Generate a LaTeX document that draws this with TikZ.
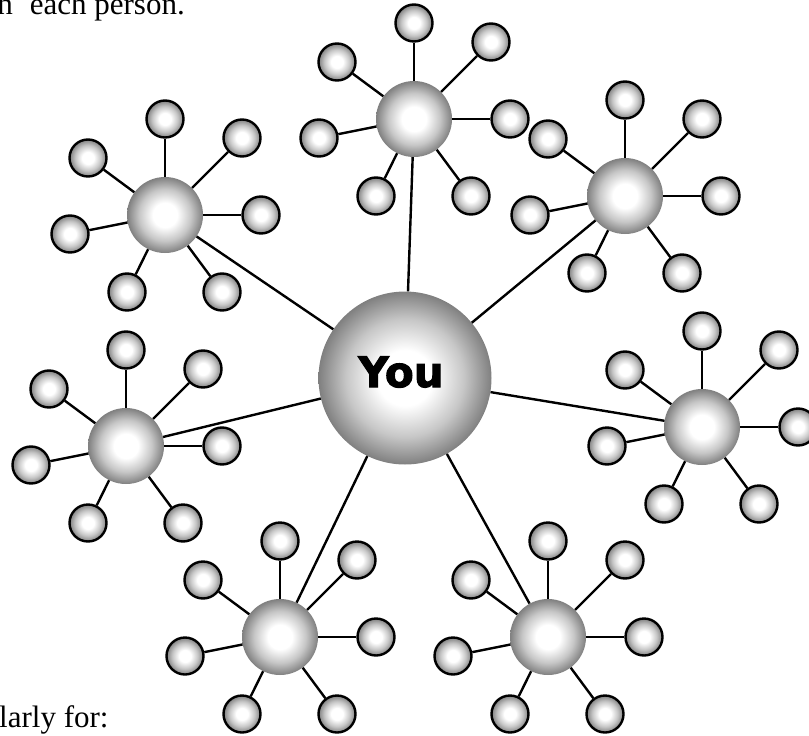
\documentclass[tikz,border=0pt]{standalone}
\usepackage{fontspec}
\setmainfont{Liberation Serif}
\newfontfamily\youfont{DejaVu Sans}[BoldFeatures={FakeBold=2.5}]
\usetikzlibrary{positioning}
\pgfdeclareradialshading{sphere}{\pgfpoint{0bp}{0bp}}{color(0bp)=(white); color(8bp)=(white); color(17bp)=(black!22); color(25bp)=(black!50); color(50bp)=(black!50)}
\tikzset{
  you/.style={
    shape = circle,
    minimum size = 173pt,
    inner sep = 0pt,
    shading = sphere
  },
  youtext/.style={
    font = \youfont\bfseries\fontsize{42pt}{42pt}\selectfont,
    inner sep = 0pt
  },
  person/.style={
    shape = circle,
    minimum size = 76pt,
    inner sep = 0pt,
    shading = sphere
  },
  friend/.style={
    shape = circle,
    minimum size = 37pt,
    inner sep = 0pt,
    draw,
    line width = 2.4pt,
    shading = sphere
  },
  link/.style={
    line width = 2.4pt
  },
  prose/.style={
    font = \fontsize{31pt}{31pt}\selectfont,
    inner sep = 0pt
  }
}

\begin{document}
\begin{tikzpicture}[x=1pt,y=-1pt]
    \useasboundingbox (0,0) rectangle (809,736);
    \clip (0,0) rectangle (809,736);
        \node[prose, anchor=base east] (above) at (185,14) {h\hspace{17pt}each person.};
        \node[prose, anchor=base west] (below) at (-1,727) {larly for:};
        \node[you] (you) at (405,378) {};
        \node[youtext] (youlabel) at (401,372) {You};
        \foreach \i/\x/\y in {1/165/215, 2/414/119, 3/625/196, 4/702/427, 5/548/637, 6/280/637, 7/126/446}{
        \node[person] (p\i) at (\x,\y) {};
        \draw[link] (you) -- (p\i);
        \foreach \j/\dx/\dy in {1/0/-96, 2/77/-77, 3/96/0, 4/57/77, 5/-38/77, 6/-77/-57, 7/-95/19}{
        \node[friend] (p\i-\j) at (\x+\dx,\y+\dy) {};
        \draw[link] (p\i) -- (p\i-\j);
        }
        }
    \end{tikzpicture}
\end{document}
